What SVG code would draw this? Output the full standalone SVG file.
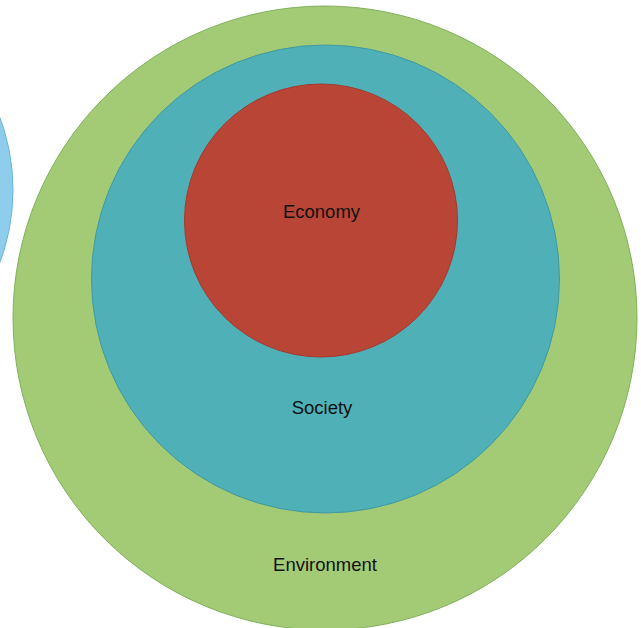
<svg xmlns="http://www.w3.org/2000/svg" width="641" height="628" viewBox="0 0 641 628">
  <style>
    .label { font-family: "Liberation Sans", Arial, sans-serif; font-size: 18.5px; fill: #111; text-anchor: middle; }
    .blue { fill: #8ecdec; stroke: #6cb4d8; stroke-width: 1; }
    .env { fill: #a3cb75; stroke: #7fb05a; stroke-width: 1; }
    .soc { fill: #4fb0b7; stroke: #3f9aa0; stroke-width: 1; }
    .eco { fill: #b94537; stroke: #a33a2d; stroke-width: 1; }
  </style>
  <rect width="641" height="628" fill="#ffffff"/>
  <g id="side-circle">
    <circle class="blue" cx="-196" cy="190" r="209"/>
  </g>
  <g id="environment">
    <circle class="env" cx="325" cy="318" r="312"/>
    <text class="label" x="325" y="571">Environment</text>
  </g>
  <g id="society">
    <circle class="soc" cx="325.5" cy="279" r="234"/>
    <text class="label" x="322" y="414">Society</text>
  </g>
  <g id="economy">
    <circle class="eco" cx="321" cy="220.5" r="136.5"/>
    <text class="label" x="321.5" y="218">Economy</text>
  </g>
  <g id="connectors"/>
</svg>
